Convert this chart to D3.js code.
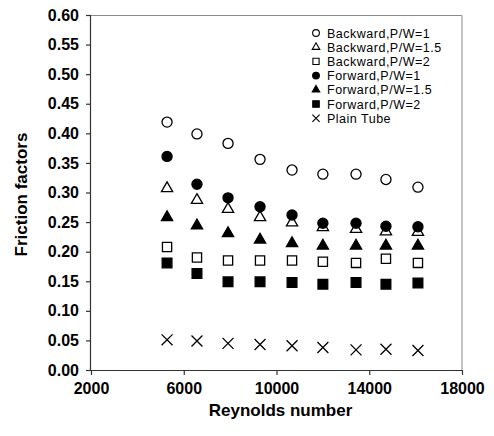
<!DOCTYPE html>
<html>
<head>
<meta charset="utf-8">
<script src="https://cdn.jsdelivr.net/npm/d3@7"></script>
<style>
  body { margin: 0; background: #fff; }
  svg text { font-family: "Liberation Sans", Arial, sans-serif; }
</style>
</head>
<body>
<div id="chart"></div>
<script>
// DATA
const reynolds = [5280, 6570, 7910, 9290, 10670, 12000, 13430, 14720, 16100];
const backward1   = [0.419, 0.399, 0.383, 0.356, 0.338, 0.331, 0.331, 0.322, 0.309];
const backward15  = [0.307, 0.287, 0.272, 0.258, 0.249, 0.241, 0.238, 0.234, 0.233];
const backward2   = [0.208, 0.190, 0.185, 0.185, 0.185, 0.183, 0.181, 0.188, 0.181];
const forward1    = [0.361, 0.314, 0.291, 0.276, 0.262, 0.248, 0.248, 0.243, 0.242];
const forward15   = [0.258, 0.244, 0.231, 0.220, 0.214, 0.210, 0.210, 0.210, 0.210];
const forward2    = [0.181, 0.163, 0.149, 0.149, 0.148, 0.145, 0.148, 0.145, 0.147];
const plainTube   = [0.051, 0.049, 0.045, 0.043, 0.041, 0.038, 0.034, 0.035, 0.033];
const seriesNames = ["Backward,P/W=1", "Backward,P/W=1.5", "Backward,P/W=2",
                     "Forward,P/W=1", "Forward,P/W=1.5", "Forward,P/W=2", "Plain Tube"];
const xTicks = [2000, 6000, 10000, 14000, 18000];
const yTicks = [0, 0.05, 0.10, 0.15, 0.20, 0.25, 0.30, 0.35, 0.40, 0.45, 0.50, 0.55, 0.60];

const W = 494, H = 436;
const margin = { top: 15, right: 32, bottom: 66, left: 91 };
const width = W - margin.left - margin.right,
      height = H - margin.top - margin.bottom;

// marker styles, one per series
const styles = [
  { shape: d3.symbolCircle,   size: 80, fill: "#fff" },
  { shape: d3.symbolTriangle, size: 55, fill: "#fff" },
  { shape: d3.symbolSquare,   size: 85, fill: "#fff" },
  { shape: d3.symbolCircle,   size: 80, fill: "#000" },
  { shape: d3.symbolTriangle, size: 55, fill: "#000" },
  { shape: d3.symbolSquare,   size: 95, fill: "#000" },
  { shape: d3.symbolTimes,    size: 80, fill: "none" }
];
const allSeries = [backward1, backward15, backward2, forward1, forward15, forward2, plainTube];

const svg = d3.select("#chart").append("svg")
  .attr("width", W).attr("height", H);

const g = svg.append("g")
  .attr("transform", "translate(" + margin.left + "," + margin.top + ")");

const x = d3.scaleLinear().domain([2000, 18000]).range([0, width]);
const y = d3.scaleLinear().domain([0, 0.6]).range([height, 0]);

// FRAME (top & right in grey)
g.append("path")
  .attr("d", "M0,0.5H" + width + "V" + height)
  .attr("fill", "none").attr("stroke", "#8a8a8a").attr("stroke-width", 1);

// AXES
const xAxis = g.append("g")
  .attr("transform", "translate(0," + height + ")")
  .call(d3.axisBottom(x).tickValues(xTicks).tickSize(5).tickPadding(8).tickFormat(d3.format("d")));
const yAxis = g.append("g")
  .call(d3.axisLeft(y).tickValues(yTicks).tickSize(5).tickPadding(7).tickFormat(d3.format(".2f")));

[xAxis, yAxis].forEach(a => {
  a.selectAll("path, line").attr("stroke", "#333").attr("stroke-width", 1.2);
  a.selectAll("text")
    .attr("fill", "#000")
    .style("font-size", "16px")
    .style("font-weight", "bold")
    .style("font-family", '"Liberation Sans", Arial, sans-serif');
});
xAxis.select(".domain").attr("d", "M0,0.5H" + width);
yAxis.select(".domain").attr("d", "M-0.5,0V" + height);

// AXIS TITLES
svg.append("text")
  .attr("x", margin.left + width / 2 + 4).attr("y", 416)
  .attr("text-anchor", "middle")
  .style("font-size", "17px").style("font-weight", "bold")
  .text("Reynolds number");

svg.append("text")
  .attr("transform", "translate(27," + (margin.top + height / 2 + 2) + ") rotate(-90)")
  .attr("text-anchor", "middle")
  .style("font-size", "17px").style("font-weight", "bold")
  .text("Friction factors");

// POINTS
allSeries.forEach((vals, i) => {
  const st = styles[i];
  const sym = d3.symbol().type(st.shape).size(st.size);
  g.append("g").selectAll("path")
    .data(vals.map((v, j) => ({ re: reynolds[j], f: v })))
    .enter().append("path")
    .attr("transform", d => "translate(" + x(d.re) + "," + y(d.f) + ")")
    .attr("d", sym)
    .attr("fill", st.fill)
    .attr("stroke", "#000")
    .attr("stroke-width", 1.3);
});

// LEGEND
const legend = svg.append("g").attr("transform", "translate(316,33)");
seriesNames.forEach((name, i) => {
  const st = styles[i];
  const row = legend.append("g").attr("transform", "translate(0," + (i * 14.2) + ")");
  row.append("path")
    .attr("d", d3.symbol().type(st.shape).size(st.size * 0.45))
    .attr("fill", st.fill)
    .attr("stroke", "#000")
    .attr("stroke-width", 1.1);
  row.append("text")
    .attr("x", 11).attr("dy", "0.36em")
    .style("font-size", "12.5px")
    .style("letter-spacing", "0.5px")
    .text(name);
});
</script>
</body>
</html>
